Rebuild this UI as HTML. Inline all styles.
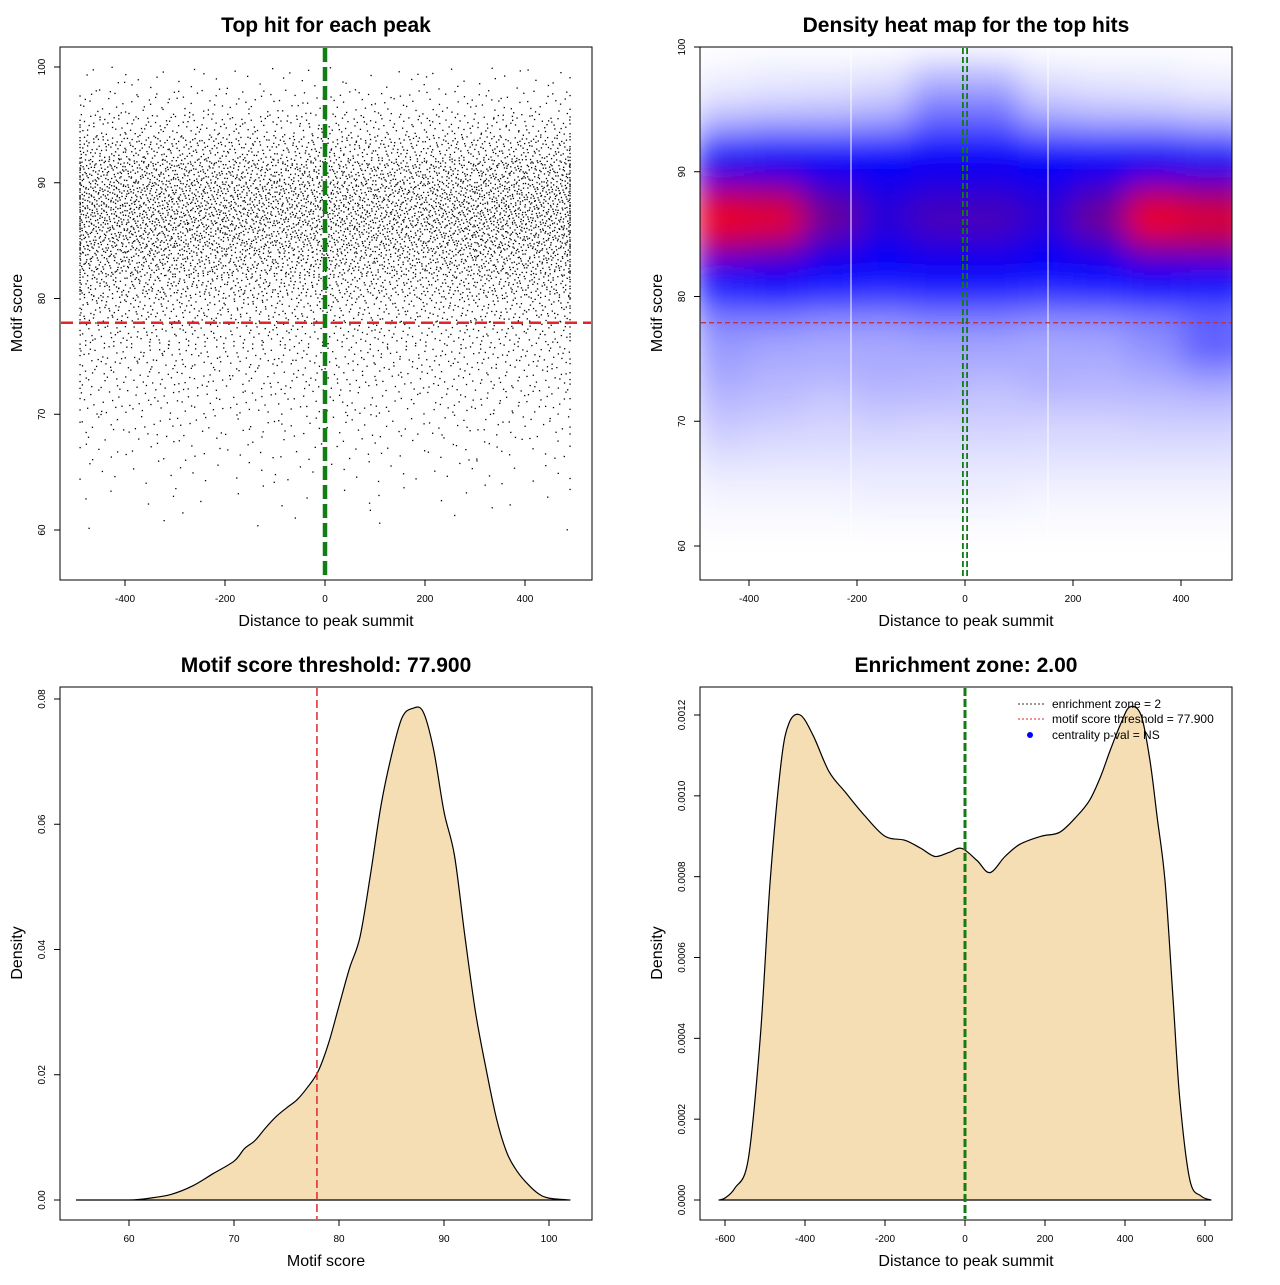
<!DOCTYPE html>
<html><head><meta charset="utf-8">
<style>
body{margin:0;background:#fff;}
svg text{font-family:"Liberation Sans",sans-serif;}
</style></head>
<body>
<svg id="s" width="1280" height="1280" viewBox="0 0 1280 1280" xmlns="http://www.w3.org/2000/svg">
<defs>
<filter id="blur" x="-20%" y="-20%" width="140%" height="140%"><feGaussianBlur stdDeviation="15"/></filter>
<clipPath id="clip2"><rect x="700" y="47" width="532" height="533"/></clipPath>
</defs>
</svg>
<script>
// ---------- data ----------
const scoreBinStarts = [56,58,60,62,64,66,68,70,72,74,76,78,80,82,84,86,88,90,92,94,96,98];
const scoreBinWeights = [0.0002,0.0004,0.001,0.002,0.004,0.007,0.011,0.016,0.021,0.026,0.030,0.040,0.060,0.080,0.098,0.108,0.102,0.088,0.058,0.032,0.015,0.006];
const distBinStarts = [-500,-400,-300,-200,-100,0,100,200,300,400];
const distBinWeights = [0.105,0.105,0.1,0.095,0.095,0.095,0.095,0.1,0.105,0.105];
const totalPoints = 9500;
const scoreThreshold = 77.9;
const heatScores = [98,96,94,92,90,88,86,84,82,80,78,76,74,72,70,68,66,64,62];
const heatDists = [-450,-350,-250,-150,-50,50,150,250,350,450];
const heatValues = [
[.02,.03,.03,.04,.1,.1,.04,.03,.03,.02],
[.05,.06,.07,.09,.2,.2,.09,.07,.06,.05],
[.14,.16,.16,.18,.28,.28,.18,.16,.16,.14],
[.38,.42,.42,.42,.45,.45,.42,.42,.42,.38],
[.5,.5,.47,.46,.48,.48,.46,.47,.5,.5],
[.85,.82,.62,.52,.56,.56,.52,.62,.85,.8],
[1,.98,.7,.55,.62,.62,.55,.7,1,.95],
[.78,.72,.55,.48,.52,.52,.48,.55,.74,.75],
[.46,.47,.45,.44,.46,.46,.44,.45,.47,.47],
[.38,.42,.38,.36,.38,.38,.36,.38,.42,.4],
[.22,.22,.2,.2,.22,.22,.2,.2,.22,.26],
[.18,.16,.15,.15,.16,.16,.15,.16,.2,.3],
[.16,.14,.14,.15,.14,.14,.15,.14,.16,.2],
[.13,.12,.1,.12,.12,.1,.12,.12,.12,.13],
[.1,.09,.08,.09,.08,.09,.08,.08,.09,.09],
[.07,.06,.06,.06,.06,.06,.06,.06,.06,.06],
[.04,.04,.04,.04,.04,.04,.04,.04,.04,.04],
[.02,.02,.02,.03,.03,.03,.02,.02,.02,.02],
[.01,.01,.01,.01,.01,.01,.01,.01,.01,.01]];
const scoreX = [55,60,62,64,66,68,70,71,72,73,74,75,76,77,78,79,80,81,82,83,84,85,86,87,88,89,90,91,92,93,94,95,96,97,98,99,100,102];
const scoreY = [0,0,.0003,.0009,.0022,.0042,.0062,.0082,.0095,.0115,.0133,.0147,.016,.018,.0205,.025,.031,.037,.042,.052,.063,.071,.077,.0785,.078,.072,.062,.055,.042,.03,.021,.013,.0075,.0045,.0025,.001,.0003,0];
const distX = [-615,-600,-575,-542,-512,-487,-460,-440,-412,-380,-340,-300,-250,-200,-150,-110,-75,-40,-8,30,62,100,137,190,237,280,312,340,362,390,412,440,462,480,500,520,537,562,590,615];
const distY = [0,.000005,.00003,.0001,.0004,.00079,.00108,.00118,.0012,.00115,.00106,.00101,.00095,.0009,.00089,.00087,.00085,.00086,.00087,.00084,.00081,.00085,.00088,.0009,.00091,.00095,.00099,.00105,.00111,.00118,.00122,.0012,.00109,.00095,.00079,.0005,.00025,.00005,.00001,0];
const yTicks1 = [60,70,80,90,100], xTicks1 = [-400,-200,0,200,400];
const yTicks3 = [0,0.02,0.04,0.06,0.08], xTicks3 = [60,70,80,90,100];
const yTicks4 = [0,0.0002,0.0004,0.0006,0.0008,0.001,0.0012], xTicks4 = [-600,-400,-200,0,200,400,600];
const yTick4Labels = ["0.0000","0.0002","0.0004","0.0006","0.0008","0.0010","0.0012"];
const yTick3Labels = ["0.00","0.02","0.04","0.06","0.08"];

const svg = document.getElementById('s');
const NS = 'http://www.w3.org/2000/svg';
function mk(tag, attrs, parent){const e=document.createElementNS(NS,tag);for(const k in attrs)e.setAttribute(k,attrs[k]);(parent||svg).appendChild(e);return e;}
function lin(d0,d1,r0,r1){return v=>r0+(v-d0)*(r1-r0)/(d1-d0);}

const x1=lin(0,200,325,425), y1=lin(60,100,530,67);
const x2=lin(0,200,965,1073), y2=lin(60,100,546,47);
const x3=lin(60,100,129,549), y3=lin(0,0.08,1200,699);
const x4=lin(0,600,965,1205), y4=lin(0,0.0012,1200,715);

function text(str,x,y,opts,name){const t=mk('text',Object.assign({x:x,y:y},opts||{}));t.textContent=str;

return t;}

function axes(bx,by,bw,bh,xs,xt,xl,ys,yt,yl,title,xlabel,idx){
  const r=mk('rect',{x:bx,y:by,width:bw,height:bh,fill:'none',stroke:'#000','stroke-width':1});
  
  
  const base=by+bh;
  xt.forEach((v,i)=>{const x=xs(v);
    const l=mk('line',{x1:x,x2:x,y1:base,y2:base+6,stroke:'#000'});
    
    
    text(xl[i],x,base+22,{'font-size':10,'text-anchor':'middle'},'x-tick-label');});
  yt.forEach((v,i)=>{const y=ys(v);
    const l=mk('line',{x1:bx-6,x2:bx,y1:y,y2:y,stroke:'#000'});
    
    
    text(yl[i],bx-15,y,{'font-size':10,'text-anchor':'middle',transform:`rotate(-90 ${bx-15} ${y})`},'y-tick-label');});
  text(title,bx+bw/2,by-15,{'font-size':21,'font-weight':'bold','text-anchor':'middle'},'chart-title');
  text(xlabel,bx+bw/2,base+46,{'font-size':16,'text-anchor':'middle'},'x-axis-title');
}

// ---------- Panel 1: scatter ----------
function halton(i,b){let f=1,r=0;while(i>0){f/=b;r+=f*(i%b);i=Math.floor(i/b);}return r;}
const g1=mk('g',{});


let hi=17;
scoreBinStarts.forEach((s,si)=>{distBinStarts.forEach((d,di)=>{
  const n=Math.round(totalPoints*scoreBinWeights[si]*distBinWeights[di]);
  for(let k=0;k<n;k++){hi++;
    const sv=s+2*halton(hi,3);
    const dv=Math.max(-490,Math.min(490,d+100*halton(hi,2)));
    mk('rect',{x:x1(dv)-0.6,y:y1(sv)-0.6,width:1.3,height:1.3,fill:'#000'},g1);
  }});});
axes(60,47,532,533,x1,xTicks1,xTicks1.map(String),y1,yTicks1,yTicks1.map(String),'Top hit for each peak','Distance to peak summit',1);
text('Motif score',22,313,{'font-size':16,'text-anchor':'middle',transform:'rotate(-90 22 313)'},'y-axis-title');
let l=mk('line',{x1:61,x2:591,y1:y1(scoreThreshold),y2:y1(scoreThreshold),stroke:'#e0262b','stroke-width':2.5,'stroke-dasharray':'12 6'});


l=mk('line',{x1:x1(0),x2:x1(0),y1:48,y2:579,stroke:'#127d12','stroke-width':4.5,'stroke-dasharray':'14 5'});



// ---------- Panel 2: heat map ----------
function cmap(v){let r,g,b;
  if(v<0.45){const t=v/0.45;r=255*(1-t);g=255*(1-t);b=255;}
  else{const t=Math.min(1,(v-0.45)/0.55);r=255*t;g=0;b=255*(1-t);}
  return `rgb(${Math.round(r)},${Math.round(g)},${Math.round(b)})`;}
const g2c=mk('g',{'clip-path':'url(#clip2)'});


mk('rect',{x:700,y:47,width:532,height:533,fill:'#fff'},g2c);
const g2=mk('g',{filter:'url(#blur)'},g2c);
const cw=x2(100)-x2(0), ch=y2(60)-y2(62);
heatScores.forEach((s,ri)=>{heatDists.forEach((d,ci)=>{
  let x=x2(d)-cw/2, w=cw, y=y2(s+1), h=ch;
  if(ci===heatDists.length-1){w+=20;}
  const c=mk('rect',{x:x,y:y,width:w+0.5,height:h+0.5,fill:cmap(heatValues[ri][ci])},g2);
  
  
});});
[851,1048].forEach(x=>{const w=mk('line',{x1:x,x2:x,y1:48,y2:579,stroke:'#fff','stroke-width':1.2,opacity:0.8},g2c);
  
  });
axes(700,47,532,533,x2,xTicks1,xTicks1.map(String),y2,yTicks1,yTicks1.map(String),'Density heat map for the top hits','Distance to peak summit',2);
text('Motif score',662,313,{'font-size':16,'text-anchor':'middle',transform:'rotate(-90 662 313)'},'y-axis-title');
l=mk('line',{x1:701,x2:1231,y1:y2(scoreThreshold),y2:y2(scoreThreshold),stroke:'#c8323a','stroke-width':1.3,'stroke-dasharray':'5 3'});


[-3,3].forEach(o=>{const q=mk('line',{x1:x2(0)+o*0.7,x2:x2(0)+o*0.7,y1:48,y2:579,stroke:'#127d12','stroke-width':1.8,'stroke-dasharray':'6 3'});
  
  });

// ---------- smooth area ----------
function areaPath(xs,ys,X,Y){
  const P=xs.map((v,i)=>[X(v),Y(ys[i])]);
  let p=`M${P[0][0].toFixed(1)},${Y(0)} L${P[0][0].toFixed(1)},${P[0][1].toFixed(1)}`;
  for(let i=0;i<P.length-1;i++){
    const p0=P[Math.max(0,i-1)],p1=P[i],p2=P[i+1],p3=P[Math.min(P.length-1,i+2)];
    const c1=[p1[0]+(p2[0]-p0[0])/6,p1[1]+(p2[1]-p0[1])/6];
    const c2=[p2[0]-(p3[0]-p1[0])/6,p2[1]-(p3[1]-p1[1])/6];
    c1[1]=Math.min(c1[1],Y(0));c2[1]=Math.min(c2[1],Y(0));
    p+=` C${c1[0].toFixed(1)},${c1[1].toFixed(1)} ${c2[0].toFixed(1)},${c2[1].toFixed(1)} ${p2[0].toFixed(1)},${p2[1].toFixed(1)}`;
  }
  return p+` L${P[P.length-1][0].toFixed(1)},${Y(0)} Z`;}

// ---------- Panel 3 ----------
let a=mk('path',{d:areaPath(scoreX,scoreY,x3,y3),fill:'#f5deb3',stroke:'#000','stroke-width':1.2,'stroke-linejoin':'round'});


axes(60,687,532,533,x3,xTicks3,xTicks3.map(String),y3,yTicks3,yTick3Labels,'Motif score threshold: 77.900','Motif score',3);
text('Density',22,953,{'font-size':16,'text-anchor':'middle',transform:'rotate(-90 22 953)'},'y-axis-title');
l=mk('line',{x1:x3(scoreThreshold),x2:x3(scoreThreshold),y1:688,y2:1219,stroke:'#e0262b','stroke-width':1.5,'stroke-dasharray':'8 4'});



// ---------- Panel 4 ----------
a=mk('path',{d:areaPath(distX,distY,x4,y4),fill:'#f5deb3',stroke:'#000','stroke-width':1.2,'stroke-linejoin':'round'});


axes(700,687,532,533,x4,xTicks4,xTicks4.map(String),y4,yTicks4,yTick4Labels,'Enrichment zone: 2.00','Distance to peak summit',4);
text('Density',662,953,{'font-size':16,'text-anchor':'middle',transform:'rotate(-90 662 953)'},'y-axis-title');
l=mk('line',{x1:x4(0),x2:x4(0),y1:688,y2:1219,stroke:'#127d12','stroke-width':3,'stroke-dasharray':'8 3'});


const leg=mk('g',{});


let e=mk('line',{x1:1018,x2:1044,y1:704,y2:704,stroke:'#333','stroke-dasharray':'2 2'},leg);


e=mk('line',{x1:1018,x2:1044,y1:719,y2:719,stroke:'#e0262b','stroke-dasharray':'2 2'},leg);


e=mk('circle',{cx:1030,cy:735,r:3,fill:'#0000ff'},leg);


text('enrichment zone = 2',1052,708,{'font-size':12},'legend-entry');
text('motif score threshold = 77.900',1052,723,{'font-size':12},'legend-entry');
text('centrality p-val = NS',1052,739,{'font-size':12},'legend-entry');
</script>
</body></html>
